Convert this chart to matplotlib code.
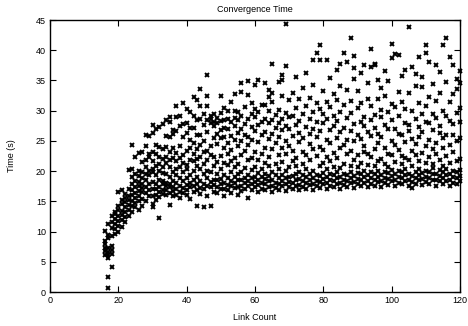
import matplotlib
matplotlib.use("Agg")
import matplotlib.pyplot as plt

# one run per entry: number of links and measured convergence time (s)
link_count = [
    16, 16, 16, 16, 16, 16,
    17, 17, 17, 17, 17, 17, 17, 17, 17,
    18, 18, 18, 18, 18, 18, 18, 18,
    19, 19, 19, 19, 19, 19,
    20, 20, 20, 20, 20, 20, 20,
    21, 21, 21, 21, 21, 21, 21,
    22, 22, 22, 22, 22, 22, 22,
    23, 23, 23, 23, 23, 23, 23,
    24, 24, 24, 24, 24, 24, 24, 24, 24,
    25, 25, 25, 25, 25, 25, 25, 25,
    26, 26, 26, 26, 26, 26, 26, 26, 26,
    27, 27, 27, 27, 27, 27, 27, 27, 27,
    28, 28, 28, 28, 28, 28, 28, 28, 28,
    29, 29, 29, 29, 29, 29, 29, 29,
    30, 30, 30, 30, 30, 30, 30, 30, 30, 30, 30,
    31, 31, 31, 31, 31, 31, 31, 31, 31,
    32, 32, 32, 32, 32, 32, 32, 32, 32, 32,
    33, 33, 33, 33, 33, 33, 33, 33, 33,
    34, 34, 34, 34, 34, 34, 34, 34, 34, 34,
    35, 35, 35, 35, 35, 35, 35, 35, 35, 35, 35,
    36, 36, 36, 36, 36, 36, 36, 36, 36,
    37, 37, 37, 37, 37, 37, 37, 37, 37, 37,
    38, 38, 38, 38, 38, 38, 38, 38, 38,
    39, 39, 39, 39, 39, 39, 39, 39, 39,
    40, 40, 40, 40, 40, 40, 40, 40, 40, 40,
    41, 41, 41, 41, 41, 41, 41, 41, 41,
    42, 42, 42, 42, 42, 42, 42, 42, 42, 42,
    43, 43, 43, 43, 43, 43, 43, 43, 43, 43,
    44, 44, 44, 44, 44, 44, 44, 44, 44, 44,
    45, 45, 45, 45, 45, 45, 45, 45, 45,
    46, 46, 46, 46, 46, 46, 46, 46, 46, 46, 46,
    47, 47, 47, 47, 47, 47, 47, 47, 47,
    48, 48, 48, 48, 48, 48, 48, 48, 48,
    49, 49, 49, 49, 49, 49, 49, 49, 49,
    50, 50, 50, 50, 50, 50, 50, 50, 50, 50,
    51, 51, 51, 51, 51, 51, 51, 51, 51, 51,
    52, 52, 52, 52, 52, 52, 52, 52, 52,
    53, 53, 53, 53, 53, 53, 53, 53, 53,
    54, 54, 54, 54, 54, 54, 54, 54, 54, 54,
    55, 55, 55, 55, 55, 55, 55, 55, 55,
    56, 56, 56, 56, 56, 56, 56, 56, 56, 56,
    57, 57, 57, 57, 57, 57, 57, 57,
    58, 58, 58, 58, 58, 58, 58, 58, 58, 58,
    59, 59, 59, 59, 59, 59, 59, 59, 59,
    60, 60, 60, 60, 60, 60, 60, 60, 60,
    61, 61, 61, 61, 61, 61, 61, 61, 61,
    62, 62, 62, 62, 62, 62, 62, 62,
    63, 63, 63, 63, 63, 63, 63, 63, 63, 63,
    64, 64, 64, 64, 64, 64, 64, 64, 64, 64,
    65, 65, 65, 65, 65, 65, 65, 65, 65, 65,
    66, 66, 66, 66, 66, 66, 66,
    67, 67, 67, 67, 67, 67, 67, 67, 67,
    68, 68, 68, 68, 68, 68, 68, 68, 68, 68,
    69, 69, 69, 69, 69, 69, 69, 69, 69, 69,
    70, 70, 70, 70, 70, 70, 70, 70,
    71, 71, 71, 71, 71, 71, 71, 71,
    72, 72, 72, 72, 72, 72, 72, 72,
    73, 73, 73, 73, 73, 73, 73, 73,
    74, 74, 74, 74, 74, 74, 74, 74,
    75, 75, 75, 75, 75, 75, 75, 75,
    76, 76, 76, 76, 76, 76, 76, 76,
    77, 77, 77, 77, 77, 77, 77, 77, 77,
    78, 78, 78, 78, 78, 78, 78, 78,
    79, 79, 79, 79, 79, 79, 79, 79, 79,
    80, 80, 80, 80, 80, 80, 80, 80,
    81, 81, 81, 81, 81, 81, 81, 81, 81,
    82, 82, 82, 82, 82, 82, 82, 82,
    83, 83, 83, 83, 83, 83, 83, 83,
    84, 84, 84, 84, 84, 84, 84, 84,
    85, 85, 85, 85, 85, 85, 85, 85, 85,
    86, 86, 86, 86, 86, 86, 86, 86,
    87, 87, 87, 87, 87, 87, 87, 87,
    88, 88, 88, 88, 88, 88, 88, 88, 88,
    89, 89, 89, 89, 89, 89, 89, 89, 89,
    90, 90, 90, 90, 90, 90, 90, 90,
    91, 91, 91, 91, 91, 91, 91, 91,
    92, 92, 92, 92, 92, 92, 92, 92,
    93, 93, 93, 93, 93, 93, 93, 93,
    94, 94, 94, 94, 94, 94, 94, 94, 94,
    95, 95, 95, 95, 95, 95, 95, 95, 95,
    96, 96, 96, 96, 96, 96, 96, 96,
    97, 97, 97, 97, 97, 97, 97, 97,
    98, 98, 98, 98, 98, 98, 98, 98,
    99, 99, 99, 99, 99, 99, 99, 99,
    100, 100, 100, 100, 100, 100, 100, 100, 100,
    101, 101, 101, 101, 101, 101, 101, 101,
    102, 102, 102, 102, 102, 102, 102, 102,
    103, 103, 103, 103, 103, 103, 103, 103,
    104, 104, 104, 104, 104, 104, 104, 104,
    105, 105, 105, 105, 105, 105, 105, 105,
    106, 106, 106, 106, 106, 106, 106, 106,
    107, 107, 107, 107, 107, 107, 107, 107,
    108, 108, 108, 108, 108, 108, 108, 108,
    109, 109, 109, 109, 109, 109, 109, 109,
    110, 110, 110, 110, 110, 110, 110, 110, 110,
    111, 111, 111, 111, 111, 111, 111, 111,
    112, 112, 112, 112, 112, 112, 112, 112,
    113, 113, 113, 113, 113, 113, 113, 113,
    114, 114, 114, 114, 114, 114, 114, 114,
    115, 115, 115, 115, 115, 115, 115, 115,
    116, 116, 116, 116, 116, 116, 116, 116,
    117, 117, 117, 117, 117, 117, 117, 117,
    118, 118, 118, 118, 118, 118, 118, 118,
    119, 119, 119, 119, 119, 119, 119, 119,
    120, 120, 120, 120, 120, 120, 120, 120, 120,
]

conv_time = [
    6.2, 6.8, 7.3, 7.9, 8.4, 10.1,
    0.7, 2.5, 5.6, 6.1, 6.6, 7.2, 8.9, 9.4, 11.2,
    4.1, 6.3, 6.9, 7.6, 9.3, 10.6, 11.6, 12.6,
    9.6, 10.4, 11.2, 12.1, 12.9, 13.3,
    10.0, 10.9, 11.8, 12.6, 13.6, 14.2, 16.6,
    10.8, 11.9, 12.8, 13.4, 14.6, 15.3, 16.8,
    11.5, 12.4, 13.3, 14.1, 14.9, 15.6, 16.2,
    12.6, 13.5, 14.4, 15.2, 15.9, 17.0, 20.2,
    13.2, 14.3, 15.1, 16.0, 16.8, 17.9, 19.1, 20.3, 24.3,
    14.0, 14.8, 15.6, 16.4, 17.3, 18.4, 19.5, 22.4,
    13.6, 15.0, 15.9, 16.7, 17.6, 18.2, 19.2, 20.1, 23.0,
    14.2, 15.4, 16.5, 17.2, 17.9, 18.9, 19.9, 21.5, 23.2,
    15.1, 16.3, 17.4, 18.6, 19.6, 20.6, 21.8, 24.1, 26.0,
    15.8, 16.9, 17.8, 19.3, 20.0, 22.4, 22.9, 25.8,
    14.0, 14.6, 15.9, 17.1, 18.2, 19.8, 20.4, 21.6, 23.1, 26.3, 27.6,
    15.2, 16.1, 17.0, 17.9, 19.4, 20.9, 22.9, 24.3, 26.9,
    12.2, 15.7, 16.6, 17.4, 18.6, 20.1, 21.2, 22.3, 24.0, 27.3,
    16.2, 16.9, 17.8, 18.4, 19.7, 20.6, 22.0, 23.7, 27.8,
    16.0, 16.8, 17.5, 18.1, 19.6, 21.4, 22.4, 24.0, 25.8, 28.4,
    14.4, 16.4, 17.3, 17.9, 19.1, 20.7, 21.8, 23.2, 25.6, 28.2, 29.0,
    15.9, 16.7, 17.4, 18.3, 19.9, 22.2, 23.8, 26.1, 26.8,
    16.1, 17.0, 18.0, 19.4, 20.3, 21.6, 23.0, 26.6, 28.9, 30.8,
    15.5, 16.6, 17.6, 18.9, 20.6, 22.1, 24.1, 27.5, 29.1,
    16.3, 17.2, 18.4, 19.8, 21.3, 22.6, 25.7, 27.8, 31.3,
    16.0, 16.8, 17.7, 18.8, 20.4, 21.0, 23.4, 26.3, 28.0, 30.2,
    15.4, 17.4, 18.1, 19.3, 21.9, 23.9, 25.2, 27.2, 29.7,
    16.5, 17.5, 18.6, 20.0, 21.7, 22.8, 24.7, 27.1, 29.2, 32.3,
    14.2, 16.9, 17.8, 19.0, 20.9, 22.0, 23.6, 26.0, 28.5, 31.8,
    16.2, 17.2, 18.3, 20.4, 22.4, 24.3, 25.9, 28.7, 30.7, 33.6,
    14.1, 17.0, 17.9, 19.5, 21.2, 23.1, 25.0, 27.6, 29.4,
    15.9, 17.6, 18.9, 20.0, 21.8, 23.3, 26.5, 28.4, 30.8, 32.4, 35.9,
    14.2, 17.3, 18.2, 19.8, 22.6, 24.2, 27.9, 28.6, 29.2,
    16.6, 17.7, 18.6, 20.9, 22.3, 25.5, 27.4, 28.1, 29.5,
    16.4, 17.4, 18.5, 19.6, 21.5, 24.5, 26.2, 28.0, 28.8,
    17.0, 17.8, 18.7, 20.3, 22.5, 25.4, 26.8, 28.3, 29.6, 32.4,
    15.8, 17.1, 18.0, 19.3, 21.4, 23.9, 25.6, 27.2, 28.5, 30.4,
    16.8, 17.7, 18.8, 21.0, 22.9, 24.6, 26.9, 28.7, 29.9,
    16.3, 17.5, 18.4, 19.9, 21.6, 23.5, 25.8, 28.2, 31.5,
    17.2, 18.1, 19.0, 20.6, 22.2, 25.2, 27.5, 28.8, 30.0, 32.8,
    16.0, 17.4, 18.5, 19.5, 21.1, 24.1, 26.3, 28.4, 29.7,
    16.7, 17.6, 18.6, 19.8, 22.7, 24.9, 27.0, 29.1, 33.1, 34.5,
    17.1, 18.0, 18.9, 20.5, 23.4, 26.0, 27.8, 30.6,
    15.6, 17.5, 18.4, 19.3, 21.8, 24.4, 25.7, 28.6, 32.6, 34.9,
    16.9, 17.8, 18.8, 20.2, 22.1, 25.1, 27.3, 29.4, 31.2,
    17.3, 18.2, 19.1, 20.7, 23.2, 26.6, 28.9, 30.3, 34.2,
    16.5, 17.7, 18.6, 19.7, 21.9, 24.8, 27.6, 29.8, 35.1,
    17.0, 18.0, 19.0, 20.4, 22.8, 25.9, 28.1, 31.0,
    16.8, 17.9, 18.7, 19.5, 21.3, 23.8, 26.4, 28.7, 30.9, 34.5,
    17.4, 18.3, 19.2, 20.8, 22.4, 25.3, 27.9, 29.9, 32.3, 33.4,
    16.6, 17.6, 18.5, 19.9, 23.6, 26.2, 28.4, 31.4, 37.8, 32.9,
    17.2, 18.1, 19.3, 21.1, 24.6, 27.1, 29.3,
    16.9, 17.8, 18.9, 20.3, 22.6, 25.6, 28.0, 30.1, 34.8,
    17.5, 18.4, 19.4, 21.5, 23.9, 26.8, 28.6, 32.5, 35.9, 35.1,
    16.7, 17.9, 18.8, 20.0, 22.9, 25.0, 27.4, 29.6, 37.4, 44.4,
    17.3, 18.2, 19.1, 20.6, 24.2, 26.9, 28.9, 31.7,
    17.0, 18.0, 19.2, 21.7, 23.3, 25.8, 29.2, 33.0,
    17.6, 18.5, 19.5, 20.9, 22.2, 27.7, 30.5, 35.5,
    16.8, 17.7, 18.7, 19.8, 24.8, 26.3, 28.3, 31.9,
    17.4, 18.3, 19.3, 21.2, 23.1, 25.4, 29.5, 33.8,
    17.1, 18.1, 19.0, 20.4, 22.7, 27.3, 30.8, 36.2,
    17.7, 18.6, 19.6, 21.9, 24.5, 26.1, 28.7, 32.1,
    16.9, 17.9, 18.9, 20.1, 23.7, 27.0, 29.7, 34.3, 38.3,
    17.5, 18.4, 19.4, 22.5, 25.7, 28.2, 31.3, 39.5,
    17.2, 18.2, 19.2, 20.8, 24.0, 26.6, 30.2, 38.3, 40.9,
    17.8, 18.7, 19.7, 21.4, 23.5, 27.9, 29.4, 33.2,
    17.0, 18.0, 19.0, 20.3, 22.3, 25.2, 28.6, 31.5, 38.3,
    17.6, 18.5, 19.5, 21.6, 24.7, 26.8, 30.6, 35.4,
    17.3, 18.3, 19.3, 20.6, 23.0, 27.5, 29.1, 32.8,
    17.9, 18.8, 19.8, 22.1, 25.5, 28.3, 31.8, 36.7,
    17.1, 18.1, 19.1, 20.5, 23.8, 26.4, 29.8, 34.0, 37.8,
    17.7, 18.6, 19.6, 21.1, 24.4, 27.2, 30.9, 39.6,
    17.4, 18.4, 19.4, 22.8, 25.1, 28.8, 33.5, 38.1,
    18.0, 18.9, 19.9, 20.9, 23.4, 26.7, 29.6, 31.6, 42.1,
    17.2, 18.2, 19.2, 21.8, 24.9, 27.8, 35.2, 39.0, 37.0,
    17.8, 18.7, 19.7, 20.7, 22.6, 26.0, 30.4, 33.3,
    17.5, 18.5, 19.5, 21.3, 25.3, 28.1, 31.2, 36.3,
    18.1, 19.0, 20.0, 23.2, 24.1, 27.4, 29.0, 37.6,
    17.3, 18.3, 19.3, 21.0, 22.9, 26.5, 32.0, 34.6,
    17.9, 18.8, 19.8, 22.4, 25.8, 28.5, 30.7, 40.2, 37.3,
    17.6, 18.6, 19.6, 20.8, 23.6, 27.1, 29.3, 37.8, 37.5,
    18.2, 19.1, 20.1, 21.7, 24.6, 26.2, 31.9, 35.0,
    17.4, 18.4, 19.4, 22.0, 25.6, 28.9, 30.1, 33.7,
    18.0, 18.9, 19.9, 21.2, 23.9, 27.6, 32.4, 36.5,
    17.7, 18.7, 19.7, 20.6, 22.8, 26.9, 29.7, 34.9,
    18.3, 19.2, 20.2, 22.7, 25.0, 28.4, 31.1, 38.7, 41.0,
    17.5, 18.5, 19.5, 21.5, 24.3, 27.0, 30.6, 39.3,
    18.1, 19.0, 20.0, 23.5, 26.1, 29.2, 33.1, 39.2,
    17.8, 18.8, 19.8, 21.1, 22.5, 25.9, 31.5, 35.8,
    18.4, 19.3, 20.3, 22.2, 24.8, 28.0, 30.3, 36.8,
    17.6, 18.6, 19.6, 21.9, 26.6, 27.7, 32.9, 43.8,
    17.2, 18.2, 19.2, 20.9, 23.3, 25.3, 29.9, 37.3,
    17.9, 18.9, 19.9, 22.6, 24.5, 28.6, 34.1, 36.1,
    18.5, 19.4, 20.4, 21.6, 25.7, 27.3, 31.3, 38.8,
    17.7, 18.7, 19.7, 23.0, 26.4, 29.5, 33.9, 35.6,
    18.2, 19.1, 20.1, 21.4, 24.2, 28.2, 30.8, 39.5, 40.9,
    17.8, 18.8, 19.8, 22.3, 25.2, 27.9, 32.2, 38.1,
    18.6, 19.5, 20.5, 21.2, 23.7, 26.8, 29.4, 34.4,
    17.5, 18.5, 19.5, 22.9, 24.7, 28.8, 31.6, 37.5,
    18.3, 19.2, 20.2, 21.8, 26.3, 27.5, 33.0, 36.4,
    17.9, 18.9, 19.9, 20.8, 23.8, 25.5, 30.0, 40.9,
    18.4, 19.3, 20.3, 22.5, 25.9, 29.1, 34.8, 42.0,
    17.6, 18.6, 19.6, 21.3, 24.4, 28.3, 31.4, 38.8,
    18.1, 19.0, 20.0, 23.1, 26.0, 27.8, 32.7, 37.5,
    17.8, 18.8, 19.8, 21.7, 24.9, 29.6, 33.6, 35.3,
    18.3, 19.2, 20.2, 22.0, 25.4, 28.1, 30.5, 34.6, 36.5,
]

plt.rcParams['font.family'] = ['Liberation Sans', 'DejaVu Sans']

fig = plt.figure(figsize=(4.68, 3.26), dpi=100)
ax = fig.add_axes([50/468, 1 - 292/326, 410/468, 272/326])

ax.plot(link_count, conv_time, linestyle='none', marker='x', markersize=3,
        markeredgewidth=1.4, color='black', clip_on=False)

ax.set_xlim(0, 120)
ax.set_ylim(0, 45)
ax.set_xticks(range(0, 121, 20))
ax.set_yticks(range(0, 46, 5))
ax.tick_params(direction='in', top=True, right=True, length=4, width=0.8,
               labelsize=6.5, pad=3, colors='black')
for sp in ax.spines.values():
    sp.set_linewidth(1)

ax.set_xlabel('Link Count', fontsize=6.5, labelpad=6)
ax.set_ylabel('Time (s)', fontsize=6.5, labelpad=14)
ax.set_title('Convergence Time', fontsize=6.5, pad=6)

fig.savefig('out.png', dpi=100)
